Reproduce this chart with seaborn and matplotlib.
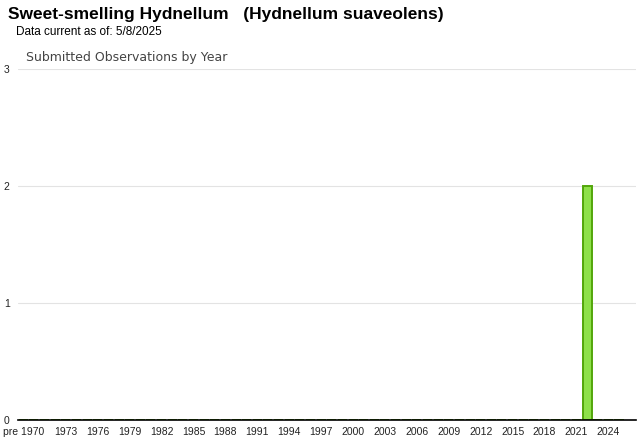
import matplotlib
matplotlib.use("Agg")
import matplotlib.pyplot as plt
import seaborn as sns
import pandas as pd

# data
years = ["pre 1970"] + [str(y) for y in range(1970, 2026)]
counts = [0] * len(years)
counts[years.index("2022")] = 2
shown_labels = ["pre 1970"] + [str(y) for y in range(1973, 2025, 3)]

df = pd.DataFrame({"year": years, "count": counts})

sns.set_style("white")
plt.rcParams["font.family"] = ["Liberation Sans", "DejaVu Sans"]

fig = plt.figure(figsize=(6.4, 4.42), dpi=100)
ax = fig.add_axes([18 / 640, 1 - 420 / 442, 618 / 640, 351 / 442])

sns.barplot(data=df, x="year", y="count", order=years, color="#8ee04a",
            edgecolor="#52a60a", linewidth=1.4, width=0.85, saturation=1, ax=ax)

ax.set_xlim(-0.5, len(years) + 0.6)
ax.set_ylim(0, 3)
ax.set_yticks([0, 1, 2, 3])
ax.set_yticklabels(["0", "1", "2", "3"])
ax.yaxis.grid(True, color="#e3e3e3", linewidth=0.8)
ax.set_axisbelow(True)

ticks = [years.index(l) for l in shown_labels]
ax.set_xticks(ticks)
ax.set_xticklabels(shown_labels)
ax.tick_params(axis="x", length=3, color="#dddddd", labelsize=7.5, pad=2, labelcolor="#222222")
ax.tick_params(axis="y", length=0, labelsize=7.5, pad=6, labelcolor="#222222")

for s in ["top", "right", "left"]:
    ax.spines[s].set_visible(False)
ax.spines["bottom"].set_color("black")
ax.spines["bottom"].set_linewidth(1.2)
ax.set_xlabel("")
ax.set_ylabel("")

fig.text(8 / 640, 1 - 15 / 442, "Sweet-smelling Hydnellum   (Hydnellum suaveolens)",
         fontsize=12.5, fontweight="bold", va="center", ha="left", color="black")
fig.text(16 / 640, 1 - 32 / 442, "Data current as of: 5/8/2025",
         fontsize=8.5, va="center", ha="left", color="black")
fig.text(26 / 640, 1 - 57 / 442, "Submitted Observations by Year",
         fontsize=9, va="center", ha="left", color="#444444", family=["DejaVu Sans"])

fig.savefig("out.png", dpi=100)
